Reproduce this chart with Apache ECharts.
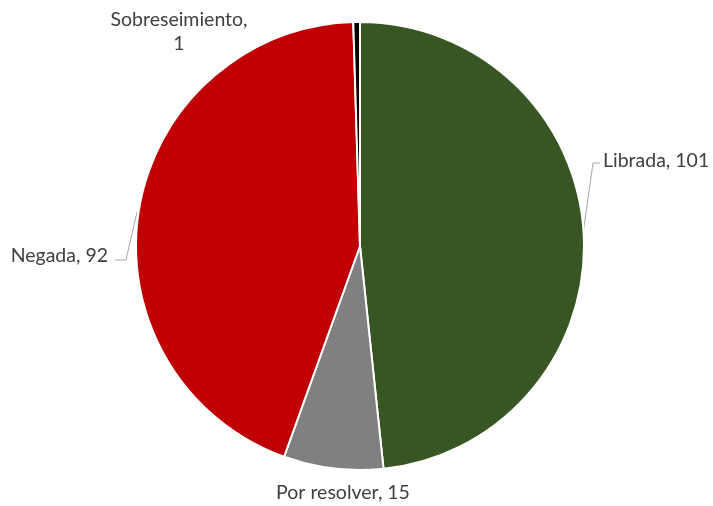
<!DOCTYPE html>
<html><head><meta charset="utf-8">
<script src="https://cdn.jsdelivr.net/npm/echarts@6/dist/echarts.min.js"></script>
<style>html,body{margin:0;padding:0;background:#fff}#c{width:713px;height:506px}</style>
</head><body><div id="c"></div>
<script>
const categories = ['Librada', 'Por resolver', 'Negada', 'Sobreseimiento'];
const values = [101, 15, 92, 1];
const colors = ['#375623', '#808080', '#C00000', '#000000'];

const labelSpots = [
  {x: 603, y: 161, align: 'left', line: [[583, 234], [593, 163], [600, 163]]},
  {x: 343, y: 493, align: 'center', line: null},
  {x: 108, y: 256, align: 'right', line: [[137, 212], [126, 260], [115, 260]]},
  {x: 179, y: 32, align: 'center', line: null}
];

const chart = echarts.init(document.getElementById('c'));
chart.setOption({
  animation: false,
  series: [{
    type: 'pie',
    center: [360, 246],
    radius: 224,
    startAngle: 90,
    clockwise: true,
    itemStyle: {borderColor: '#fff', borderWidth: 2},
    label: {
      show: true,
      formatter: '{b}, {c}',
      color: '#404040',
      fontFamily: 'Lato',
      fontSize: 19.5,
      lineHeight: 24,
      overflow: 'none'
    },
    labelLine: {show: true, lineStyle: {color: '#A6A6A6', width: 1}},
    labelLayout: function (p) {
      const s = labelSpots[p.dataIndex];
      const o = {x: s.x, y: s.y, align: s.align, verticalAlign: 'middle', width: 300};
      if (s.line) o.labelLinePoints = s.line;
      return o;
    },
    data: categories.map((n, i) => ({
      name: n,
      value: values[i],
      itemStyle: {color: colors[i]},
      label: n === 'Sobreseimiento' ? {formatter: '{b},\n{c}'} : undefined,
      labelLine: {show: !!labelSpots[i].line}
    }))
  }]
});
</script></body></html>
